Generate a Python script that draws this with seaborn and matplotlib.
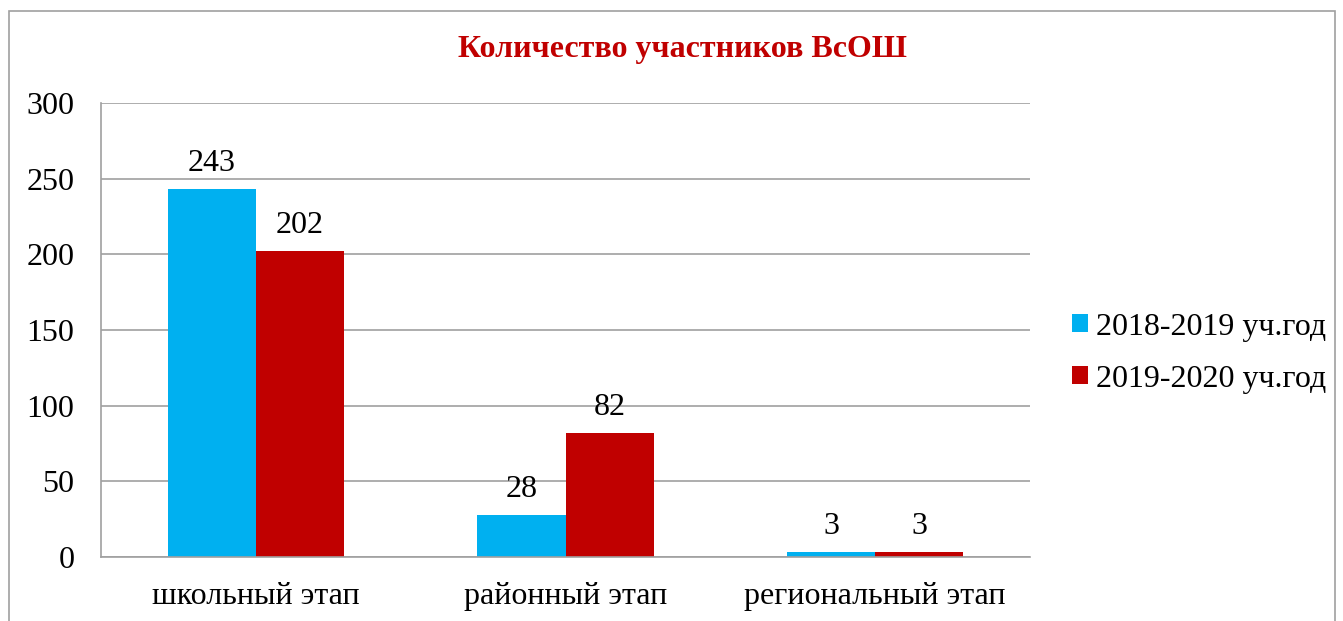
import pandas as pd
import matplotlib.pyplot as plt
import seaborn as sns
from matplotlib.patches import Rectangle

stages = ["школьный этап", "районный этап", "региональный этап"]
years = ["2018-2019 уч.год", "2019-2020 уч.год"]
values_2018 = [243, 28, 3]
values_2019 = [202, 82, 3]
colors = ["#00B0F0", "#C00000"]

df = pd.DataFrame({
    "stage": stages * 2,
    "year": [years[0]] * 3 + [years[1]] * 3,
    "count": values_2018 + values_2019,
})

sns.set_style("white")
plt.rcParams["font.family"] = ["Liberation Serif", "DejaVu Serif"]
plt.rcParams["text.color"] = "black"
plt.rcParams["xtick.color"] = "black"
plt.rcParams["ytick.color"] = "black"

fig = plt.figure(figsize=(13.43, 6.21), dpi=100)
ax = fig.add_axes([101 / 1343, 1 - 557 / 621, 929 / 1343, 454 / 621])

sns.barplot(data=df, x="stage", y="count", hue="year", palette=colors,
            width=0.57, saturation=1, ax=ax, gap=0, linewidth=0)

for c in ax.containers:
    ax.bar_label(c, fmt="%d", padding=8, fontsize=23, color="black")

ax.set_ylim(0, 300)
ax.set_yticks(range(0, 301, 50))
ax.set_xlim(-0.5, 2.5)
ax.yaxis.grid(True, color="#a0a0a0", linewidth=1.2)
ax.set_axisbelow(True)
ax.set_xlabel("")
ax.set_ylabel("")
ax.tick_params(axis="y", labelsize=23, length=0, pad=19, labelcolor="black")
ax.tick_params(axis="x", labelsize=23, length=0, pad=18, labelcolor="black")
for side in ["top", "right"]:
    ax.spines[side].set_visible(False)
for side in ["left", "bottom"]:
    ax.spines[side].set_color("#a0a0a0")
    ax.spines[side].set_linewidth(1.2)

handles, labels = ax.get_legend_handles_labels()
leg = ax.legend(handles, labels, loc="center left",
                bbox_to_anchor=((1056 - 101) / 929, (557 - 353) / 454),
                frameon=False, fontsize=23, handlelength=0.5, handleheight=0.5,
                handletextpad=0.25, labelspacing=0.72, borderpad=0)
for t in leg.get_texts():
    t.set_color("black")

fig.text(682 / 1343, 1 - 50 / 621, "Количество участников ВсОШ", ha="center", va="center",
         fontsize=23, fontweight="bold", color="#C00000")

fig.patches.append(Rectangle((9 / 1343, -0.1), 1326 / 1343, 1.1 - 11 / 621,
                             transform=fig.transFigure, fill=False,
                             edgecolor="#a0a0a0", linewidth=1.2))

plt.savefig("out.png", dpi=100)
plt.close()
